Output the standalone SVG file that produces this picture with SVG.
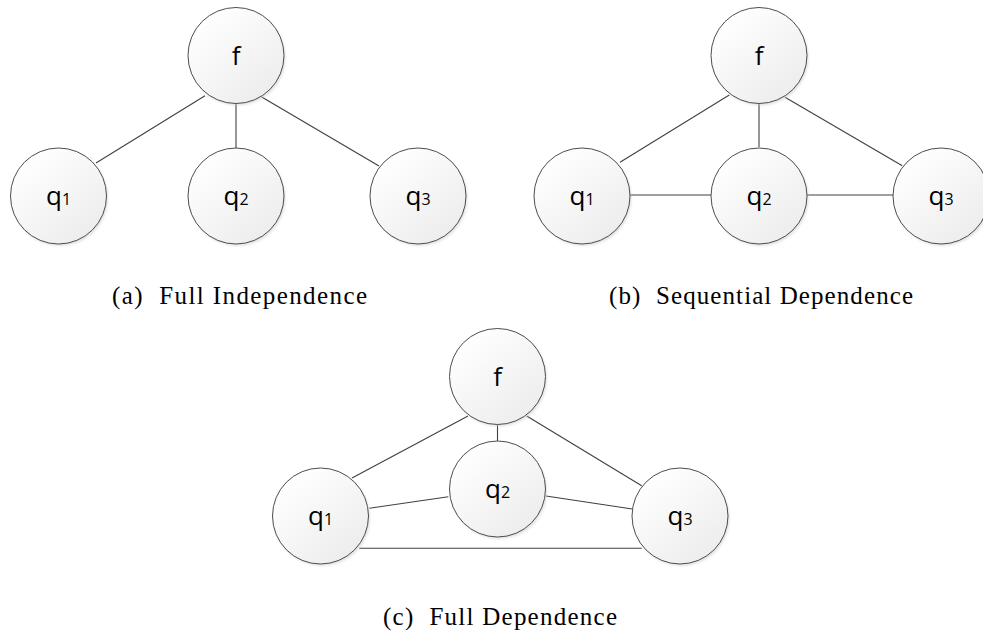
<svg xmlns="http://www.w3.org/2000/svg" width="983" height="634" viewBox="0 0 983 634">
<defs>
<linearGradient id="g" x1="0.15" y1="0.1" x2="0.85" y2="0.95">
<stop offset="0" stop-color="#ffffff"/>
<stop offset="1" stop-color="#ececec"/>
</linearGradient>
<filter id="sh" x="-20%" y="-20%" width="140%" height="140%">
<feGaussianBlur stdDeviation="1.2"/>
</filter>
</defs>
<style>
.edge{stroke:#404040;stroke-width:1.1;fill:none}
.sh{fill:#c8c8c8;filter:url(#sh);opacity:0.5}
.nd{fill:url(#g);stroke:#4d4d4d;stroke-width:1}
.lb{font-family:"Open Sans","Liberation Sans",Arial,sans-serif;font-size:26px;fill:#000;text-anchor:middle}
.sub{font-size:16px}
.cap{font-family:"Liberation Serif","Times New Roman",serif;font-size:25px;fill:#000;white-space:pre}
</style>
<rect width="983" height="634" fill="#ffffff"/>
<g id="connectors">
<line class="edge" x1="205" y1="95.7" x2="96" y2="163"/>
<line class="edge" x1="236" y1="104" x2="236" y2="148"/>
<line class="edge" x1="261.7" y1="97" x2="379" y2="166"/>
<line class="edge" x1="729.3" y1="95" x2="620" y2="162.3"/>
<line class="edge" x1="759" y1="104" x2="759" y2="147"/>
<line class="edge" x1="785" y1="97.3" x2="902.3" y2="165.7"/>
<line class="edge" x1="630" y1="195" x2="711" y2="195"/>
<line class="edge" x1="807" y1="195" x2="893" y2="195"/>
<line class="edge" x1="468" y1="416" x2="352" y2="478"/>
<line class="edge" x1="497.5" y1="425" x2="497.5" y2="441"/>
<line class="edge" x1="526.7" y1="416" x2="641.7" y2="485.7"/>
<line class="edge" x1="369.3" y1="508.3" x2="448.3" y2="496.7"/>
<line class="edge" x1="546" y1="496" x2="632.3" y2="509"/>
<line class="edge" x1="359.3" y1="548.3" x2="641.7" y2="548.3"/>
</g>
<g id="a_f" transform="translate(236,55.5)"><circle class="sh" cx="1.5" cy="2" r="48"/><circle class="nd" r="48"/><text class="lb" y="9.5">f</text></g>
<g id="a_q1" transform="translate(58.5,196)"><circle class="sh" cx="1.5" cy="2" r="48"/><circle class="nd" r="48"/><text class="lb" y="9">q<tspan class="sub">1</tspan></text></g>
<g id="a_q2" transform="translate(236,196)"><circle class="sh" cx="1.5" cy="2" r="48"/><circle class="nd" r="48"/><text class="lb" y="9">q<tspan class="sub">2</tspan></text></g>
<g id="a_q3" transform="translate(418,196)"><circle class="sh" cx="1.5" cy="2" r="48"/><circle class="nd" r="48"/><text class="lb" y="9">q<tspan class="sub">3</tspan></text></g>
<g id="b_f" transform="translate(759,55.5)"><circle class="sh" cx="1.5" cy="2" r="48"/><circle class="nd" r="48"/><text class="lb" y="9.5">f</text></g>
<g id="b_q1" transform="translate(582,196)"><circle class="sh" cx="1.5" cy="2" r="48"/><circle class="nd" r="48"/><text class="lb" y="9">q<tspan class="sub">1</tspan></text></g>
<g id="b_q2" transform="translate(759,196)"><circle class="sh" cx="1.5" cy="2" r="48"/><circle class="nd" r="48"/><text class="lb" y="9">q<tspan class="sub">2</tspan></text></g>
<g id="b_q3" transform="translate(941,196)"><circle class="sh" cx="1.5" cy="2" r="48"/><circle class="nd" r="48"/><text class="lb" y="9">q<tspan class="sub">3</tspan></text></g>
<g id="c_f" transform="translate(497.5,376.5)"><circle class="sh" cx="1.5" cy="2" r="48"/><circle class="nd" r="48"/><text class="lb" y="9.5">f</text></g>
<g id="c_q1" transform="translate(320.5,516)"><circle class="sh" cx="1.5" cy="2" r="48"/><circle class="nd" r="48"/><text class="lb" y="9">q<tspan class="sub">1</tspan></text></g>
<g id="c_q2" transform="translate(497.5,489)"><circle class="sh" cx="1.5" cy="2" r="48"/><circle class="nd" r="48"/><text class="lb" y="9">q<tspan class="sub">2</tspan></text></g>
<g id="c_q3" transform="translate(680,516)"><circle class="sh" cx="1.5" cy="2" r="48"/><circle class="nd" r="48"/><text class="lb" y="9">q<tspan class="sub">3</tspan></text></g>
<g id="captions">
<text class="cap" x="112" y="304" textLength="255">(a)  Full Independence</text>
<text class="cap" x="609" y="304" textLength="304">(b)  Sequential Dependence</text>
<text class="cap" x="383" y="625" textLength="234">(c)  Full Dependence</text>
</g>
</svg>
